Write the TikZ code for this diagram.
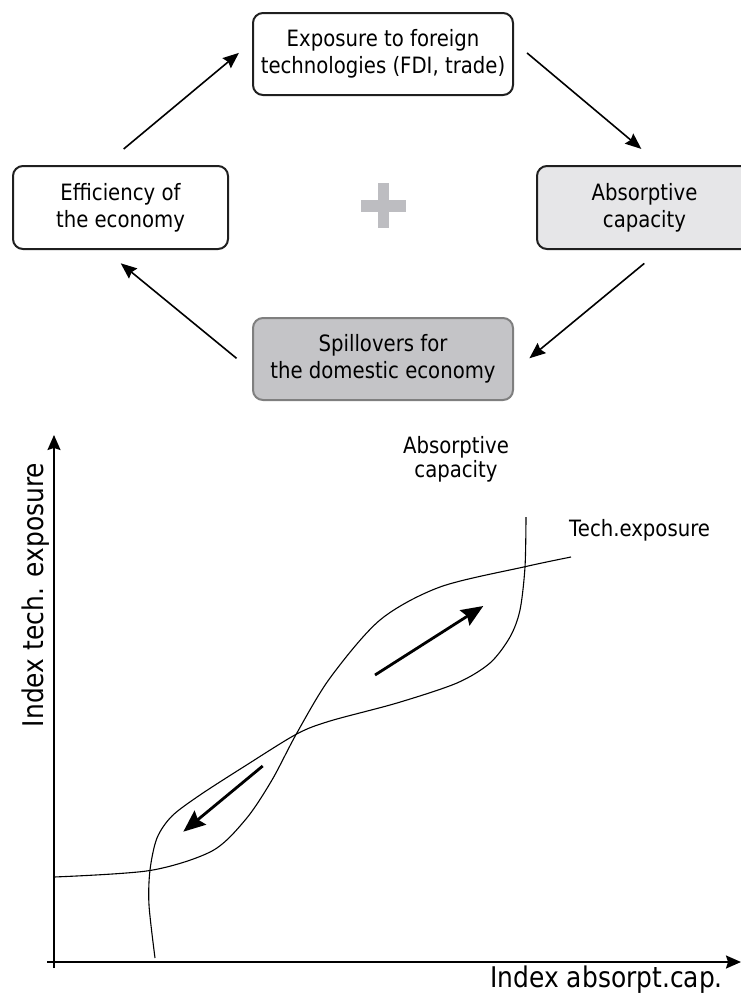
\documentclass[tikz,border=0pt]{standalone}
\usepackage{fontspec}
\setmainfont{DejaVu Sans}[FakeStretch=0.875]
\usetikzlibrary{arrows.meta}
\definecolor{lightbox}{HTML}{E6E6E8}
\definecolor{darkbox}{HTML}{C4C4C7}
\definecolor{darkrim}{HTML}{7F7F7F}
\definecolor{plusgrey}{HTML}{BDBDC1}
\begin{document}
\begin{tikzpicture}[x=1pt,y=-1pt,
    box/.style={draw=black!88,line width=2pt,rounded corners=10pt,align=center,
        inner sep=0pt,font=\fontsize{22.5}{27}\selectfont},
    widebox/.style={box,minimum width=260pt,minimum height=82pt},
    sidebox/.style={box,minimum width=215pt,minimum height=83pt},
    flow/.style={line width=1.6pt,-{Stealth[length=16pt,width=13pt,inset=2pt]}},
    trend/.style={line width=2.8pt,-{Stealth[length=22pt,width=18pt,inset=3pt]}},
    axis/.style={line width=1.7pt,-{Stealth[length=15pt,width=13pt,inset=2pt]}},
    curve/.style={line width=1.1pt},
    lbl/.style={inner sep=0pt,font=\fontsize{22.5}{24}\selectfont},
    axlbl/.style={inner sep=0pt,font=\fontsize{28.5}{34}\selectfont}]
        \useasboundingbox (0,0) rectangle (741,997);
        % the cycle
        \node[widebox] (expo) at (383,54) {Exposure to foreign\\technologies (FDI, trade)};
        \node[sidebox] (eff) at (120.5,207.5) {Efficiency of\\the economy};
        \node[sidebox,fill=lightbox] (absc) at (644.5,207.5) {Absorptive\\capacity};
        \node[widebox,fill=darkbox,draw=darkrim] (spill) at (383,359) {Spillovers for\\the domestic economy};
        \fill[plusgrey] (378,183) rectangle (389,228);
        \fill[plusgrey] (361,200) rectangle (406,212);
        \draw[flow,shorten <=25pt,shorten >=17pt] ([xshift=-16pt]eff.north) -- ([yshift=12pt]expo.west);
        \draw[flow,shorten <=17pt,shorten >=25pt] ([yshift=12pt]expo.east) -- ([xshift=16pt]absc.north);
        \draw[flow,shorten <=21pt,shorten >=20pt] ([xshift=16pt]absc.south) -- ([yshift=-12pt]spill.east);
        \draw[flow,shorten <=20pt,shorten >=21pt] ([yshift=-12pt]spill.west) -- ([xshift=-16pt]eff.south);
        % the graph
        \draw[axis] (54,968) -- (54,435);
        \draw[axis] (47,962) -- (741,962);
        \node[axlbl,rotate=90,anchor=base] (ylab) at (43,595) {Index tech. exposure};
        \node[axlbl,anchor=base east] (xlab) at (723,987) {Index absorpt.cap.};
        \node[lbl,align=center,anchor=north] (abslab) at (456,436) {Absorptive\\capacity};
        \node[lbl,anchor=base west] (techlab) at (569,536) {Tech.exposure};
        \draw[curve] plot[smooth] coordinates {(54,877) (150,870.5) (212,851) (246,819) (272,780)
            (296.7,733.3) (330,678) (380,620) (440,587) (525,566.7) (571,557)};
        \draw[curve] plot[smooth] coordinates {(155,958) (149,905) (150,870) (157,838) (172,816)
            (200,795) (245,766) (296.7,734) (330,721) (397,703) (457,683) (490,663)
            (510,637) (520,610) (525,567) (526,517)};
        \draw[trend] (262.7,766) -- (183.3,831.7);
        \draw[trend] (375,675) -- (483.3,606);
\end{tikzpicture}
\end{document}
